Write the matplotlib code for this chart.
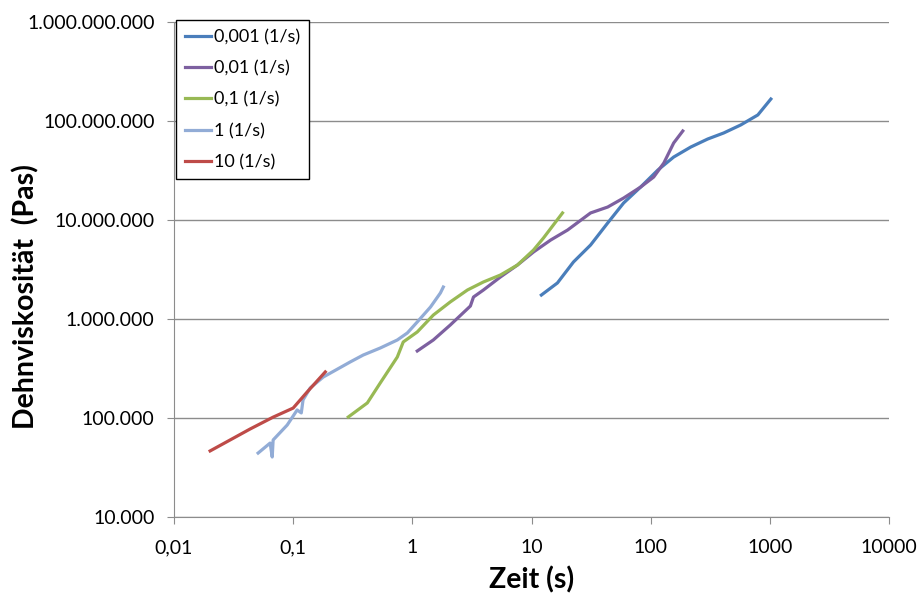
import matplotlib
matplotlib.use("Agg")
import matplotlib.pyplot as plt
from matplotlib.ticker import FixedLocator, FuncFormatter

plt.rcParams['font.family'] = ['Lato', 'DejaVu Sans']

# 0,001 (1/s)
t_0001 = [12.1, 16.5, 22.5, 31.3, 43.6, 59.3, 82.4, 115, 156, 217, 301, 410, 570, 793, 1020]
eta_0001 = [1746000, 2312000, 3767000, 5585000, 9333000, 14860000, 21530000, 31990000,
            43250000, 54580000, 65770000, 75680000, 91200000, 115100000, 166700000]

# 0,01 (1/s)
t_001 = [1.10, 1.50, 2.08, 3.07, 3.26, 3.95, 5.48, 7.62, 10.4, 14.5, 20.1, 31.3, 43.6,
         59.3, 82.4, 106, 129, 156, 186]
eta_001 = [475300, 613800, 868900, 1352000, 1667000, 1963000, 2655000, 3508000, 4753000,
           6281000, 7925000, 11780000, 13520000, 16670000, 21530000, 27160000, 37670000,
           59980000, 79250000]

# 0,1 (1/s)
t_01 = [0.290, 0.419, 0.538, 0.748, 0.839, 1.10, 1.50, 2.08, 2.90, 3.95, 5.48, 7.62, 10.4, 12.6, 18.2]
eta_01 = [102300, 141900, 225900, 413000, 586100, 739600, 1096000, 1486000, 1963000, 2366000,
          2780000, 3508000, 4977000, 6577000, 11780000]

# 1 (1/s)
t_1 = [0.0508, 0.0641, 0.0667, 0.0679, 0.0891, 0.108, 0.117, 0.121, 0.139, 0.179, 0.301,
       0.387, 0.538, 0.748, 0.908, 1.10, 1.42, 1.72, 1.82]
eta_1 = [44260, 55850, 40360, 59980, 84900, 120500, 112500, 152100, 201000, 259400, 368100,
         432500, 509300, 613800, 722800, 933300, 1321000, 1832000, 2104000]

# 10 (1/s)
t_10 = [0.0201, 0.0435, 0.0679, 0.100, 0.131, 0.186]
eta_10 = [46500, 77400, 102000, 126000, 183000, 292000]

x_ticks = [0.01, 0.1, 1, 10, 100, 1000, 10000]
x_labels = ['0,01', '0,1', '1', '10', '100', '1000', '10000']
y_ticks = [1e4, 1e5, 1e6, 1e7, 1e8, 1e9]

fig = plt.figure(figsize=(9.21, 5.93), dpi=100)
ax = fig.add_axes([174/921, 1-517/593, 715/921, 495/593])

ax.plot(t_0001, eta_0001, color='#4A7EBB', lw=2.3, label='0,001 (1/s)')
ax.plot(t_001, eta_001, color='#7D60A0', lw=2.3, label='0,01 (1/s)')
ax.plot(t_01, eta_01, color='#98B954', lw=2.3, label='0,1 (1/s)')
ax.plot(t_1, eta_1, color='#92ACD6', lw=2.3, label='1 (1/s)')
ax.plot(t_10, eta_10, color='#BE4B48', lw=2.3, label='10 (1/s)')

ax.set_xscale('log')
ax.set_yscale('log')
ax.set_xlim(0.01, 10000)
ax.set_ylim(1e4, 1e9)

ax.xaxis.set_major_locator(FixedLocator(x_ticks))
ax.set_xticklabels(x_labels)
ax.xaxis.set_minor_locator(FixedLocator([]))
ax.yaxis.set_major_locator(FixedLocator(y_ticks))
ax.yaxis.set_minor_locator(FixedLocator([]))
ax.yaxis.set_major_formatter(FuncFormatter(lambda v, p: f"{int(round(v)):,}".replace(',', '.')))

ax.grid(axis='y', color='#8C8C8C', lw=1)
ax.set_axisbelow(True)
for s in ['top', 'right']:
    ax.spines[s].set_visible(False)
for s in ['left', 'bottom']:
    ax.spines[s].set_color('#8C8C8C')
ax.tick_params(axis='both', colors='#8C8C8C', labelcolor='black', labelsize=14, length=5)
ax.tick_params(axis='y', pad=9)
ax.tick_params(axis='x', pad=11)

ax.set_xlabel('Zeit (s)', fontsize=20.5, fontweight='bold', va='center')
ax.set_ylabel('Dehnviskosität  (Pas)', fontsize=20.5, fontweight='bold', va='center')
ax.xaxis.set_label_coords(0.5, -0.127)
ax.yaxis.set_label_coords(-0.207, 0.446)

leg = ax.legend(loc='upper left', bbox_to_anchor=(0.003, 1.004), fontsize=13,
                frameon=True, fancybox=False, framealpha=1, edgecolor='black',
                handlelength=1.45, handletextpad=0.15, labelspacing=0.84,
                borderpad=0.5, borderaxespad=0)
leg.get_frame().set_linewidth(1.0)

fig.savefig('out.png', dpi=100)
